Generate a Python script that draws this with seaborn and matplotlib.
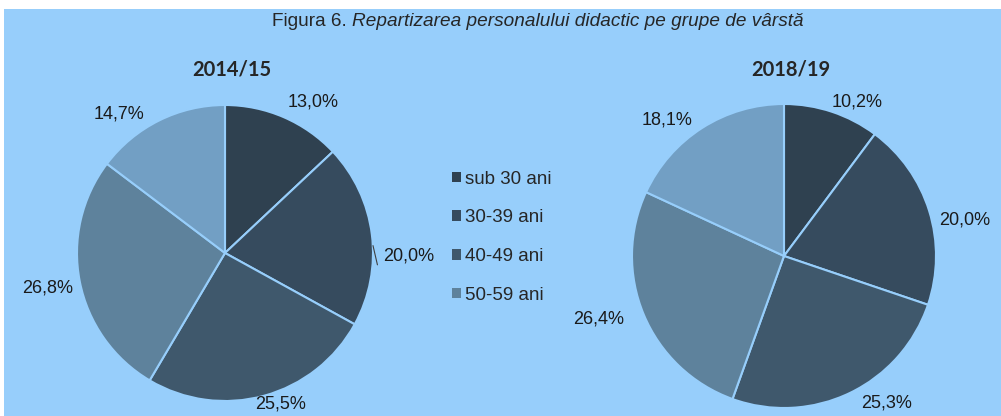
import matplotlib
matplotlib.use("Agg")
import numpy as np
import matplotlib.pyplot as plt
import matplotlib.patches as mpatches
import seaborn as sns

# Data
groups = ["sub 30 ani", "30-39 ani", "40-49 ani", "50-59 ani", "60 ani si peste"]
years = ["2014/15", "2018/19"]
share_2014 = [13.0, 20.0, 25.5, 26.8, 14.7]
share_2018 = [10.2, 20.0, 25.3, 26.4, 18.1]
legend_labels = groups[:4]  # the fifth entry is cut off in the original

# label placement (distance in radii, angle shift in degrees), like Excel's "best fit"
label_dist_2014 = [1.18, 1.24, 1.09, 1.22, 1.18]
label_shift_2014 = [-7, -8, 5, 0, 11]
label_dist_2018 = [1.12, 1.21, 1.18, 1.29, 1.18]
label_shift_2018 = [-7, -6, 9, -4, 8]

bg = "#97CEFB"
colors = sns.color_palette(["#2F4150", "#364B5E", "#3F586C", "#5E829C", "#729FC4"])

sns.set_style("white")
plt.rcParams["font.family"] = ["Liberation Sans", "DejaVu Sans"]

W, H = 1001, 416
fig = plt.figure(figsize=(W / 100, H / 100), dpi=100, facecolor="white")
fig.patches.append(mpatches.Rectangle((4 / W, 0), 1, (H - 9) / H, transform=fig.transFigure,
                                      facecolor=bg, edgecolor="none", zorder=-1))


def fmt(p):
    return f"{p:.1f}%".replace(".", ",")


def draw_pie(cx, cy, r, values, dists, shifts, title):
    ax = fig.add_axes([(cx - r) / W, (H - cy - r) / H, 2 * r / W, 2 * r / H])
    wedges, _ = ax.pie(
        values, colors=colors, startangle=90, counterclock=False,
        wedgeprops=dict(edgecolor=bg, linewidth=1.5),
    )
    for w, v, d, s in zip(wedges, values, dists, shifts):
        ang = np.deg2rad((w.theta1 + w.theta2) / 2 + s)
        ax.text(d * np.cos(ang), d * np.sin(ang), fmt(v), ha="center", va="center",
                fontsize=13, color="#1a1a1a")
    ax.set_xlim(-1, 1)
    ax.set_ylim(-1, 1)
    ax.set_aspect("equal")
    ax.axis("off")
    fig.text((cx + 7) / W, 1 - 70 / H, title, ha="center", va="center",
             fontsize=14.5, fontweight="bold", family=["Lato", "DejaVu Sans"])
    return ax


ax1 = draw_pie(225, 253, 148, share_2014, label_dist_2014, label_shift_2014, years[0])
draw_pie(784, 256, 152, share_2018, label_dist_2018, label_shift_2018, years[1])

# small leader line for the 20,0% label of the first pie
ax1.plot([1.0, 1.03], [0.05, -0.08], color="#404040", lw=0.8, clip_on=False)

# title: plain prefix + italic caption
fig.text(347 / W, 1 - 22 / H, "Figura 6.", ha="right", va="center", fontsize=13.7)
fig.text(352 / W, 1 - 22 / H, "Repartizarea personalului didactic pe grupe de vârstă",
         ha="left", va="center", fontsize=13.7, style="italic")

handles = [mpatches.Patch(facecolor=colors[i], edgecolor="none") for i in range(4)]
fig.legend(handles, legend_labels, loc="upper left", bbox_to_anchor=(444 / W, 1 - 163 / H),
           frameon=False, fontsize=13.5, handlelength=0.5, handleheight=0.5,
           handletextpad=0.2, labelspacing=1.16, borderaxespad=0)

plt.savefig("out.png", dpi=100, facecolor=fig.get_facecolor())
